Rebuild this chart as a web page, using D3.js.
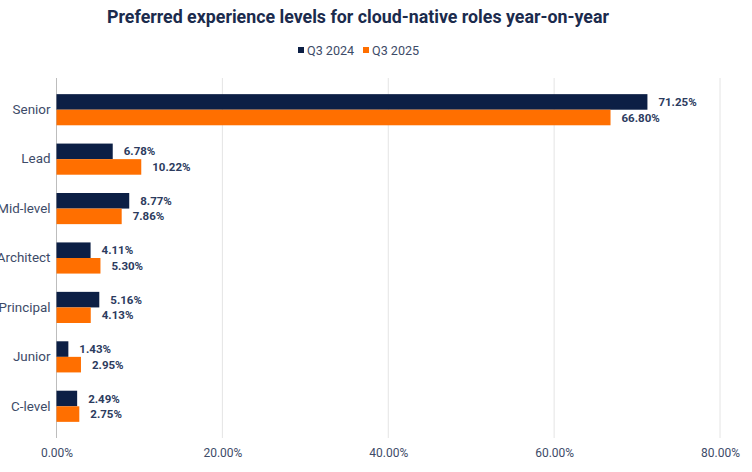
<!DOCTYPE html>
<html>
<head>
<meta charset="utf-8">
<script src="https://cdn.jsdelivr.net/npm/d3@7"></script>
<style>
  body { margin: 0; background: #fff; font-family: Roboto, "Noto Sans", sans-serif; }
</style>
</head>
<body>
<div id="chart"></div>
<script>
// Chart size
const width = 752, height = 472;

// Data
const categories = ["Senior", "Lead", "Mid-level", "Architect", "Principal", "Junior", "C-level"];
const seriesNames = ["Q3 2024", "Q3 2025"];
const values2024 = [71.25, 6.78, 8.77, 4.11, 5.16, 1.43, 2.49];
const values2025 = [66.80, 10.22, 7.86, 5.30, 4.13, 2.95, 2.75];
const xTicks = [0, 20, 40, 60, 80];

const colors = ["#0c1f45", "#ff6f00"];
const textColor = "#2c3b5e";

const margin = {top: 85, right: 32, bottom: 41, left: 56.5};

const svg = d3.select("#chart").append("svg")
  .attr("width", width)
  .attr("height", height);

// Title
svg.append("text")
  .attr("x", 358)
  .attr("y", 23)
  .attr("text-anchor", "middle")
  .style("font-size", "17.8px")
  .style("font-weight", "bold")
  .attr("fill", "#1b2b4d")
  .text("Preferred experience levels for cloud-native roles year-on-year");

// Scales
const x = d3.scaleLinear()
  .domain([0, 80])
  .range([margin.left, width - margin.right]);

const y = d3.scaleBand()
  .domain(categories)
  .range([margin.top, height - margin.bottom])
  .paddingInner(0.37)
  .paddingOuter(0.185);

const ySub = d3.scaleBand()
  .domain([0, 1])
  .range([0, y.bandwidth()]);

// Gridlines
svg.append("g")
  .selectAll("line")
  .data(xTicks.slice(1))
  .enter()
  .append("line")
  .attr("x1", d => x(d))
  .attr("x2", d => x(d))
  .attr("y1", 78)
  .attr("y2", 438)
  .attr("stroke", "#e4e4e4")
  .attr("stroke-width", 1);

// Zero axis line
svg.append("line")
  .attr("x1", x(0))
  .attr("x2", x(0))
  .attr("y1", 78)
  .attr("y2", 438)
  .attr("stroke", "#bdbdbd")
  .attr("stroke-width", 1);

// Bottom tick labels
const xAxis = svg.append("g")
  .attr("transform", `translate(0, 438)`)
  .call(d3.axisBottom(x).tickValues(xTicks).tickSize(0).tickPadding(10)
    .tickFormat(d => d.toFixed(2) + "%"));
xAxis.select(".domain").remove();
xAxis.selectAll("text")
  .style("font-size", "12px")
  .style("font-family", "Roboto, sans-serif")
  .attr("fill", "#3d4b68");

// Category labels
const yAxis = svg.append("g")
  .attr("transform", `translate(${margin.left}, 0)`)
  .call(d3.axisLeft(y).tickSize(0).tickPadding(6));
yAxis.select(".domain").remove();
yAxis.selectAll("text")
  .style("font-size", "13.4px")
  .style("font-family", "Roboto, sans-serif")
  .attr("fill", "#3d4b68");

// Bars
const series = [values2024, values2025];
const rows = categories.map((c, i) => ({cat: c, vals: series.map(s => s[i])}));

const groups = svg.append("g")
  .selectAll("g")
  .data(rows)
  .enter()
  .append("g")
  .attr("transform", d => `translate(0, ${y(d.cat)})`);

groups.selectAll("rect")
  .data(d => d.vals)
  .enter()
  .append("rect")
  .attr("x", x(0))
  .attr("y", (d, i) => ySub(i))
  .attr("width", d => x(d) - x(0))
  .attr("height", ySub.bandwidth())
  .attr("fill", (d, i) => colors[i]);

groups.selectAll("text")
  .data(d => d.vals)
  .enter()
  .append("text")
  .attr("x", d => x(d) + 11)
  .attr("y", (d, i) => ySub(i) + ySub.bandwidth() / 2)
  .attr("dy", "0.35em")
  .style("font-size", "11.5px")
  .style("font-weight", "bold")
  .attr("fill", textColor)
  .text(d => d.toFixed(2) + "%");

// Legend
const legend = svg.append("g")
  .attr("transform", "translate(298, 51)");
const legendX = [0, 65];
seriesNames.forEach((name, i) => {
  legend.append("rect")
    .attr("x", legendX[i])
    .attr("y", -4)
    .attr("width", 6)
    .attr("height", 6)
    .attr("fill", colors[i]);
  legend.append("text")
    .attr("x", legendX[i] + 9)
    .attr("y", 0)
    .attr("dy", "0.35em")
    .style("font-size", "12.6px")
    .attr("fill", "#3d4b68")
    .text(name);
});
</script>
</body>
</html>
